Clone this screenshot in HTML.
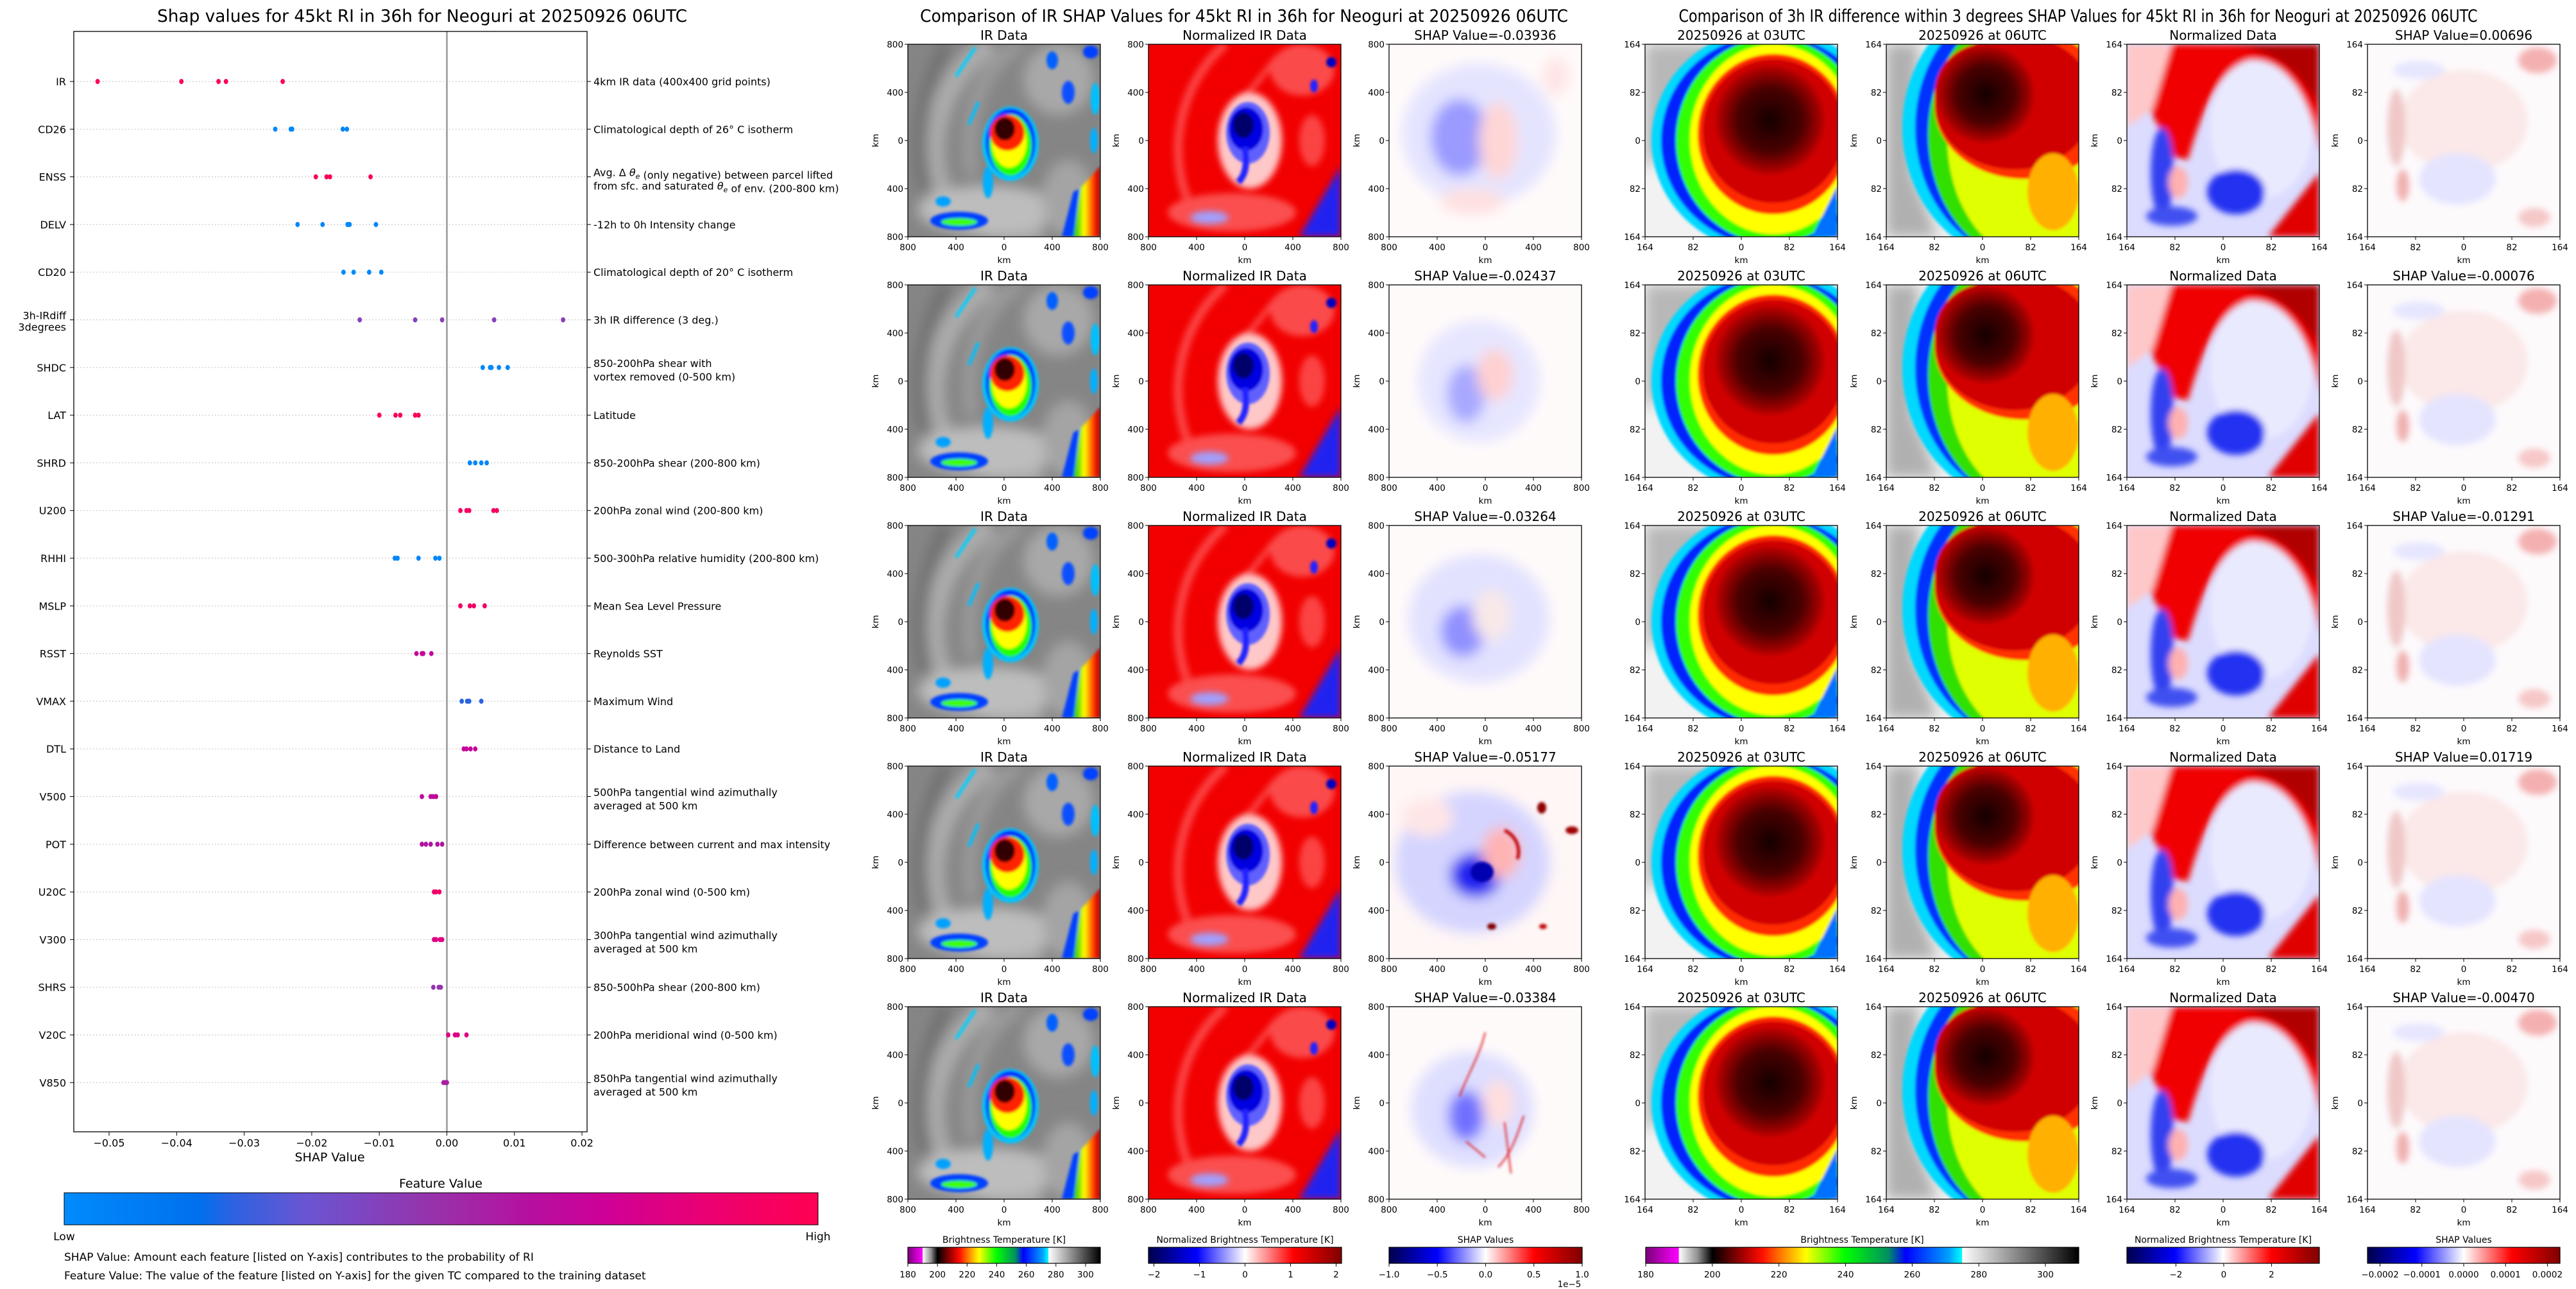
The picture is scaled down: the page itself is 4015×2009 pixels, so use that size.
<!DOCTYPE html>
<html><head><meta charset="utf-8">
<style>
html,body{margin:0;padding:0;background:#fff;}
svg{display:block;}
text{font-family:"DejaVu Sans","Liberation Sans",sans-serif;fill:#000;}
</style></head>
<body>
<svg id="root" xmlns="http://www.w3.org/2000/svg" width="4015" height="2009" viewBox="0 0 4015 2009">
<defs>
<filter id="b2" x="-20%" y="-20%" width="140%" height="140%"><feGaussianBlur stdDeviation="2"/></filter>
<filter id="b5" x="-30%" y="-30%" width="160%" height="160%"><feGaussianBlur stdDeviation="5"/></filter>
<filter id="b10" x="-30%" y="-30%" width="160%" height="160%"><feGaussianBlur stdDeviation="10"/></filter>
<linearGradient id="gFeat" x1="0" x2="1" y1="0" y2="0">
<stop offset="0" stop-color="#008bfb"/><stop offset="0.18" stop-color="#0070ee"/><stop offset="0.22" stop-color="#2a63e2"/>
<stop offset="0.32" stop-color="#6a55d2"/><stop offset="0.5" stop-color="#9a30a8"/><stop offset="0.62" stop-color="#b60fa0"/>
<stop offset="0.72" stop-color="#cf0096"/><stop offset="0.86" stop-color="#ec0070"/><stop offset="1" stop-color="#ff0052"/>
</linearGradient>
<linearGradient id="gSeis" x1="0" x2="1" y1="0" y2="0">
<stop offset="0" stop-color="#00004c"/><stop offset="0.25" stop-color="#0000ff"/><stop offset="0.5" stop-color="#ffffff"/>
<stop offset="0.75" stop-color="#ff0000"/><stop offset="1" stop-color="#800000"/>
</linearGradient>
<linearGradient id="gIR" x1="0" x2="1" y1="0" y2="0">
<stop offset="0" stop-color="#7a007a"/><stop offset="0.076" stop-color="#ff00ff"/><stop offset="0.077" stop-color="#ffffff"/>
<stop offset="0.12" stop-color="#909090"/><stop offset="0.154" stop-color="#000000"/><stop offset="0.23" stop-color="#b00000"/>
<stop offset="0.27" stop-color="#ff1000"/><stop offset="0.32" stop-color="#ff8c00"/><stop offset="0.37" stop-color="#ffff00"/>
<stop offset="0.46" stop-color="#00ff00"/><stop offset="0.56" stop-color="#009060"/><stop offset="0.6" stop-color="#0000ff"/>
<stop offset="0.7" stop-color="#00a0ff"/><stop offset="0.73" stop-color="#00ffff"/><stop offset="0.731" stop-color="#ffffff"/>
<stop offset="1" stop-color="#000000"/>
</linearGradient>
<linearGradient id="gStrip" x1="0" x2="1" y1="0" y2="0">
<stop offset="0" stop-color="#00c000"/><stop offset="0.4" stop-color="#ffff00"/><stop offset="0.8" stop-color="#ff2000"/><stop offset="1" stop-color="#a00000"/>
</linearGradient>
<radialGradient id="gCore1" cx="0.5" cy="0.5" r="0.5">
<stop offset="0" stop-color="#150000"/><stop offset="0.55" stop-color="#4a0000"/><stop offset="0.85" stop-color="#a00000"/><stop offset="1" stop-color="#d80000"/>
</radialGradient>

<symbol id="sym-ir" viewBox="0 0 300 300">
<rect width="300" height="300" fill="#858585"/>
<g filter="url(#b10)">
<path d="M130,0 C50,50 20,160 55,235 C80,285 150,300 210,290" stroke="#acacac" stroke-width="34" fill="none"/>
<path d="M175,0 C110,40 85,120 100,205" stroke="#9c9c9c" stroke-width="20" fill="none"/>
<path d="M60,0 C20,80 10,160 30,230" stroke="#707070" stroke-width="20" fill="none"/>
<ellipse cx="125" cy="258" rx="110" ry="38" fill="#bdbdbd"/>
<ellipse cx="235" cy="55" rx="55" ry="55" fill="#a8a8a8"/>
<ellipse cx="250" cy="240" rx="40" ry="60" fill="#a4a4a4"/>
</g>
<g filter="url(#b2)">
<path d="M105,5 L75,50" stroke="#00d0ff" stroke-width="5"/>
<path d="M110,90 L95,125" stroke="#00c0ff" stroke-width="5"/>
<ellipse cx="225" cy="25" rx="9" ry="14" fill="#0060ff"/>
<ellipse cx="285" cy="12" rx="12" ry="10" fill="#0040ff"/>
<ellipse cx="250" cy="75" rx="10" ry="18" fill="#1050ff"/>
<ellipse cx="292" cy="85" rx="7" ry="25" fill="#00c0ff"/>
<ellipse cx="290" cy="150" rx="6" ry="20" fill="#00b0ff"/>
<path d="M258,300 L268,225 L300,190 L300,300Z" fill="url(#gStrip)"/>
<path d="M240,300 L258,230 L268,225 L258,300Z" fill="#0040ff"/>
<ellipse cx="80" cy="275" rx="45" ry="14" fill="#0040ff"/>
<ellipse cx="80" cy="277" rx="28" ry="6" fill="#40ff00"/>
<ellipse cx="55" cy="245" rx="12" ry="8" fill="#00a0ff"/>
<ellipse cx="125" cy="215" rx="8" ry="25" fill="#00b0ff"/>
</g>
<g filter="url(#b2)">
<ellipse cx="160" cy="155" rx="44" ry="58" fill="#00c8ff"/>
<ellipse cx="160" cy="153" rx="39" ry="53" fill="#0030ff"/>
<ellipse cx="160" cy="157" rx="33" ry="48" fill="#20ff00"/>
<ellipse cx="158" cy="152" rx="27" ry="40" fill="#ffff00"/>
<ellipse cx="155" cy="138" rx="27" ry="28" fill="#ff2000"/>
<ellipse cx="151" cy="132" rx="16" ry="18" fill="#300000"/>
</g>
</symbol>

<symbol id="sym-nir" viewBox="0 0 300 300">
<rect width="300" height="300" fill="#f20000"/>
<g filter="url(#b5)" opacity="0.7">
<path d="M120,0 C50,60 30,160 60,240" stroke="#ff6060" stroke-width="14" fill="none"/>
<path d="M200,20 C170,60 150,80 140,100" stroke="#ff7070" stroke-width="8" fill="none"/>
<ellipse cx="130" cy="262" rx="100" ry="30" fill="#ff7070"/>
<ellipse cx="240" cy="40" rx="50" ry="40" fill="#ff6a6a"/>
<ellipse cx="255" cy="150" rx="20" ry="40" fill="#ff6060"/>
</g>
<g filter="url(#b5)">
<ellipse cx="158" cy="150" rx="50" ry="75" fill="#ffc8c8"/>
<path d="M235,300 L300,190 L300,300Z" fill="#2020f0"/>
<ellipse cx="95" cy="270" rx="30" ry="10" fill="#a0a0ff"/>
</g>
<g filter="url(#b2)">
<ellipse cx="155" cy="138" rx="34" ry="48" fill="#6060ff"/>
<ellipse cx="152" cy="132" rx="27" ry="34" fill="#0000e0"/>
<ellipse cx="148" cy="126" rx="16" ry="20" fill="#00006a"/>
<path d="M150,160 C155,190 150,205 140,215" stroke="#2020ff" stroke-width="10" fill="none"/>
<ellipse cx="285" cy="28" rx="8" ry="8" fill="#0000c0"/>
<ellipse cx="258" cy="65" rx="6" ry="10" fill="#2020ff"/>
</g>
</symbol>

<symbol id="sym-shap1" viewBox="0 0 300 300">
<rect width="300" height="300" fill="#fffafa"/>
<g filter="url(#b10)">
<ellipse cx="140" cy="140" rx="120" ry="110" fill="#e4e4ff"/>
<ellipse cx="110" cy="145" rx="45" ry="60" fill="#9a9aff"/>
<ellipse cx="170" cy="150" rx="30" ry="60" fill="#ffd6d6"/>
<ellipse cx="130" cy="245" rx="50" ry="20" fill="#ffe0e0"/>
<ellipse cx="260" cy="50" rx="20" ry="30" fill="#ffe4e4"/>
</g>
</symbol>
<symbol id="sym-shap2" viewBox="0 0 300 300">
<rect width="300" height="300" fill="#fffafa"/>
<g filter="url(#b10)">
<ellipse cx="140" cy="150" rx="95" ry="95" fill="#e6e6ff"/>
<ellipse cx="120" cy="170" rx="30" ry="45" fill="#a8a8ff"/>
<ellipse cx="165" cy="140" rx="28" ry="40" fill="#ffd0d0"/>
</g>
</symbol>
<symbol id="sym-shap3" viewBox="0 0 300 300">
<rect width="300" height="300" fill="#fffafa"/>
<g filter="url(#b10)">
<ellipse cx="140" cy="145" rx="110" ry="100" fill="#e2e2ff"/>
<ellipse cx="115" cy="165" rx="35" ry="40" fill="#9090ff"/>
<ellipse cx="160" cy="140" rx="30" ry="40" fill="#f8e8e8"/>
</g>
</symbol>
<symbol id="sym-shap4" viewBox="0 0 300 300">
<rect width="300" height="300" fill="#fff6f6"/>
<g filter="url(#b10)">
<ellipse cx="130" cy="150" rx="120" ry="110" fill="#d4d4ff"/>
<ellipse cx="135" cy="170" rx="40" ry="35" fill="#2020f0"/>
<ellipse cx="175" cy="135" rx="30" ry="40" fill="#ffb4b4"/>
<ellipse cx="60" cy="80" rx="40" ry="30" fill="#ffe6e6"/>
</g>
<g filter="url(#b2)">
<ellipse cx="145" cy="165" rx="18" ry="16" fill="#0000b0"/>
<path d="M180,100 C200,110 205,130 200,145" stroke="#c00000" stroke-width="5" fill="none"/>
<ellipse cx="238" cy="65" rx="7" ry="9" fill="#900000"/>
<ellipse cx="285" cy="100" rx="10" ry="6" fill="#a00000"/>
<ellipse cx="160" cy="250" rx="7" ry="5" fill="#800000"/>
<ellipse cx="240" cy="250" rx="6" ry="4" fill="#c00000"/>
</g>
</symbol>
<symbol id="sym-shap5" viewBox="0 0 300 300">
<rect width="300" height="300" fill="#fffafa"/>
<g filter="url(#b10)">
<ellipse cx="130" cy="160" rx="95" ry="90" fill="#dedeff"/>
<ellipse cx="120" cy="170" rx="28" ry="40" fill="#7070ff"/>
<ellipse cx="170" cy="150" rx="25" ry="35" fill="#ffdede"/>
</g>
<g filter="url(#b2)" stroke="#e00000" stroke-width="2" fill="none">
<path d="M150,40 C140,80 120,110 110,140"/><path d="M210,170 C200,200 190,230 170,250"/>
<path d="M180,180 L190,260"/><path d="M120,210 L150,235"/>
</g>
</symbol>

<symbol id="sym-t03" viewBox="0 0 300 300">
<rect width="300" height="300" fill="#f2f2f2"/>
<g filter="url(#b10)"><path d="M0,0 L120,0 L60,120 L0,200Z" fill="#b8b8b8"/></g>
<g filter="url(#b2)">
<ellipse cx="195" cy="150" rx="185" ry="175" fill="#00d8ff"/>
<ellipse cx="195" cy="150" rx="170" ry="165" fill="#0020ff"/>
<ellipse cx="198" cy="150" rx="150" ry="160" fill="#30ff00"/>
<ellipse cx="200" cy="148" rx="130" ry="148" fill="#ffff00"/>
<ellipse cx="200" cy="140" rx="118" ry="125" fill="#ff2a00"/>
<ellipse cx="200" cy="135" rx="110" ry="112" fill="#d00000"/>
<ellipse cx="195" cy="118" rx="90" ry="90" fill="url(#gCore1)"/>
<path d="M260,300 L300,220 L300,300Z" fill="#0070ff"/>
</g>
</symbol>
<symbol id="sym-t06" viewBox="0 0 300 300">
<rect width="300" height="300" fill="#f0f0f0"/>
<g filter="url(#b10)"><path d="M0,0 L50,0 L40,200 L80,300 L0,300Z" fill="#b0b0b0"/></g>
<g filter="url(#b2)">
<ellipse cx="215" cy="130" rx="190" ry="210" fill="#00d8ff"/>
<ellipse cx="220" cy="130" rx="175" ry="205" fill="#0030ff"/>
<ellipse cx="225" cy="140" rx="160" ry="200" fill="#30e000"/>
<ellipse cx="230" cy="145" rx="135" ry="190" fill="#e0ff00"/>
<ellipse cx="215" cy="95" rx="140" ry="115" fill="#ff3000"/>
<ellipse cx="200" cy="90" rx="125" ry="105" fill="#d00000"/>
<ellipse cx="155" cy="78" rx="80" ry="80" fill="url(#gCore1)"/>
<ellipse cx="260" cy="230" rx="40" ry="60" fill="#ffb000"/>
</g>
</symbol>
<symbol id="sym-tnorm" viewBox="0 0 300 300">
<rect width="300" height="300" fill="#dcdcff"/>
<g filter="url(#b5)">
<ellipse cx="210" cy="130" rx="80" ry="110" fill="#eaeaff"/>
<path d="M0,0 L300,0 L300,170 C285,70 240,20 190,25 C140,40 115,110 95,180 L70,175 L50,130 L25,80 L0,70Z" fill="#f00000"/>
<path d="M160,0 L300,0 L300,100 C270,40 230,10 160,0Z" fill="#b00000"/>
<path d="M0,0 L70,0 L40,100 L0,130Z" fill="#ffc8c8"/>
<path d="M220,300 L300,200 L300,300Z" fill="#e00000"/>
<ellipse cx="170" cy="230" rx="45" ry="35" fill="#2030f0"/>
<ellipse cx="55" cy="200" rx="18" ry="70" fill="#3040f0"/>
<ellipse cx="70" cy="268" rx="40" ry="15" fill="#4050f0"/>
<ellipse cx="80" cy="215" rx="15" ry="25" fill="#ffb0b0"/>
</g>
</symbol>
<symbol id="sym-tshap" viewBox="0 0 300 300">
<rect width="300" height="300" fill="#fdfafc"/>
<g filter="url(#b5)">
<ellipse cx="150" cy="120" rx="100" ry="80" fill="#fbe8e8"/>
<ellipse cx="140" cy="210" rx="60" ry="40" fill="#e4e4ff"/>
<ellipse cx="45" cy="130" rx="14" ry="60" fill="#f0c8c8"/>
<ellipse cx="55" cy="220" rx="10" ry="25" fill="#f0b0b0"/>
<ellipse cx="80" cy="40" rx="40" ry="14" fill="#e6e6ff"/>
<ellipse cx="260" cy="270" rx="25" ry="15" fill="#f6c8c8"/>
<ellipse cx="265" cy="25" rx="30" ry="20" fill="#f4b0b0"/>
</g>
</symbol>
</defs>
</svg>
<script>
const features = ["IR","CD26","ENSS","DELV","CD20","3h-IRdiff\n3degrees","SHDC","LAT","SHRD","U200","RHHI","MSLP","RSST","VMAX","DTL","V500","POT","U20C","V300","SHRS","V20C","V850"];
const descriptions = ["4km IR data (400x400 grid points)","Climatological depth of 26° C isotherm","Avg. Δ θe (only negative) between parcel lifted\nfrom sfc. and saturated θe of env. (200-800 km)","-12h to 0h Intensity change","Climatological depth of 20° C isotherm","3h IR difference (3 deg.)","850-200hPa shear with\nvortex removed (0-500 km)","Latitude","850-200hPa shear (200-800 km)","200hPa zonal wind (200-800 km)","500-300hPa relative humidity (200-800 km)","Mean Sea Level Pressure","Reynolds SST","Maximum Wind","Distance to Land","500hPa tangential wind azimuthally\naveraged at 500 km","Difference between current and max intensity","200hPa zonal wind (0-500 km)","300hPa tangential wind azimuthally\naveraged at 500 km","850-500hPa shear (200-800 km)","200hPa meridional wind (0-500 km)","850hPa tangential wind azimuthally\naveraged at 500 km"];
const shapValues = [
 [-0.0517,-0.0393,-0.0338,-0.0327,-0.0243],
 [-0.0254,-0.0231,-0.0229,-0.0154,-0.0148],
 [-0.0194,-0.0178,-0.0173,-0.0113],
 [-0.0221,-0.0184,-0.0147,-0.0144,-0.0105],
 [-0.0153,-0.0138,-0.0115,-0.0097],
 [-0.0129,-0.0047,-0.0007,0.0070,0.0172],
 [0.0053,0.0064,0.0066,0.0077,0.0090],
 [-0.0100,-0.0076,-0.0069,-0.0047,-0.0042],
 [0.0034,0.0042,0.0051,0.0059],
 [0.0020,0.0029,0.0033,0.0069,0.0074],
 [-0.0077,-0.0073,-0.0042,-0.0017,-0.0011],
 [0.0020,0.0034,0.0040,0.0056],
 [-0.0045,-0.0037,-0.0035,-0.0023],
 [0.0022,0.0030,0.0033,0.0051],
 [0.0025,0.0029,0.0035,0.0042],
 [-0.0037,-0.0024,-0.0020,-0.0016],
 [-0.0037,-0.0031,-0.0024,-0.0014,-0.0007],
 [-0.0019,-0.0016,-0.0011],
 [-0.0019,-0.0016,-0.0010,-0.0007],
 [-0.0020,-0.0012,-0.0009],
 [0.0002,0.0012,0.0016,0.0029],
 [-0.0005,-0.0002,0.0000]
];
const featureValues = [1,0.03,0.97,0.03,0.03,0.42,0.03,0.97,0.03,0.93,0.03,0.9,0.68,0.22,0.68,0.66,0.6,0.9,0.8,0.48,0.8,0.55];
const xTicks = [-0.05,-0.04,-0.03,-0.02,-0.01,0.00,0.01,0.02];
const xTickLabels = ["\u22120.05","\u22120.04","\u22120.03","\u22120.02","\u22120.01","0.00","0.01","0.02"];
const midShapTitles = ["-0.03936","-0.02437","-0.03264","-0.05177","-0.03384"];
const rightShapTitles = ["0.00696","-0.00076","-0.01291","0.01719","-0.00470"];
const kmTicksMid = ["800","400","0","400","800"];
const kmTicksRight = ["164","82","0","82","164"];
const irCbTicks = [180,200,220,240,260,280,300];
const normCbTicksMid = [-2,-1,0,1,2];
const shapCbTicksMid = [-1.0,-0.5,0.0,0.5,1.0];
const normCbTicksRight = [-2,0,2];
const shapCbTicksRight = [-0.0002,-0.0001,0.0000,0.0001,0.0002];

const NS="http://www.w3.org/2000/svg";
const root=document.getElementById('root');
function mk(tag,attrs,parent){const e=document.createElementNS(NS,tag);for(const k in attrs)e.setAttribute(k,attrs[k]);(parent||root).appendChild(e);return e;}
function txt(s,x,y,size,anchor,parent,extra){const t=mk('text',Object.assign({x:x,y:y,'font-size':size,'text-anchor':anchor||'start'},extra||{}),parent);t.textContent=s;return t;}
function fmtMinus(s){return String(s).replace('-','\u2212');}

const L={left:115,right:915,top:49,bottom:1764};
const xS=v=>696.5+v*10530;
const yS=i=>127+i*74.3;
const gL=mk('g',{});


let t=txt('Shap values for 45kt RI in 36h for Neoguri at 20250926 06UTC',658,34,27,'middle',gL,{textLength:826,lengthAdjust:'spacingAndGlyphs'});


features.forEach((f,i)=>{
  const y=yS(i);
  const gl=mk('line',{x1:L.left,x2:L.right,y1:y,y2:y,stroke:'#cccccc','stroke-width':1.2,'stroke-dasharray':'2,3'},gL);
  
  
  mk('line',{x1:L.left-6,x2:L.left,y1:y,y2:y,stroke:'#000','stroke-width':1},gL);
  mk('line',{x1:L.right,x2:L.right+6,y1:y,y2:y,stroke:'#000','stroke-width':1},gL);
  const lines=f.split('\n');
  lines.forEach((ln,k)=>{
    const yy=lines.length>1?y-1+k*18:y+6;
    const tl=txt(ln,L.left-12,yy,16,'end',gL);
    
    
  });
  const dl=descriptions[i].split('\n');
  dl.forEach((ln,k)=>{
    const yy=dl.length>1?y-1+k*21:y+6;
    const td=mk('text',{x:L.right+10,y:yy,'font-size':16},gL);
    if(ln.indexOf('θe')>=0){
      const parts=ln.split('θe');
      parts.forEach((p,pi)=>{
        const s1=mk('tspan',{},td);s1.textContent=p;
        if(pi<parts.length-1){const s2=mk('tspan',{'font-style':'italic'},td);s2.textContent='θ';const s3=mk('tspan',{'font-size':11,dy:4,'font-style':'italic'},td);s3.textContent='e';const s4=mk('tspan',{dy:-4},td);s4.textContent='';}
      });
    } else td.textContent=ln;
    
    
  });
});
const zl=mk('line',{x1:xS(0),x2:xS(0),y1:L.top,y2:L.bottom,stroke:'#999999','stroke-width':2.5},gL);


function featColor(v){
  const st=[[0,[0,139,251]],[0.18,[0,112,238]],[0.22,[42,99,226]],[0.32,[106,85,210]],[0.5,[154,48,168]],[0.62,[182,15,160]],[0.72,[207,0,150]],[0.86,[236,0,112]],[1,[255,0,82]]];
  for(let i=1;i<st.length;i++){if(v<=st[i][0]){const a=st[i-1],b=st[i];const f=(v-a[0])/(b[0]-a[0]);const c=a[1].map((x,j)=>Math.round(x+(b[1][j]-x)*f));return 'rgb('+c.join(',')+')';}}
  return 'rgb(255,0,82)';
}
shapValues.forEach((arr,i)=>{
  arr.forEach(v=>{
    const d=mk('ellipse',{cx:xS(v),cy:yS(i),rx:3.4,ry:4,fill:featColor(featureValues[i])},gL);
    
    
  });
});
const frame=mk('rect',{x:L.left,y:L.top,width:L.right-L.left,height:L.bottom-L.top,fill:'none',stroke:'#000','stroke-width':1.3},gL);


xTicks.forEach((v,i)=>{
  mk('line',{x1:xS(v),x2:xS(v),y1:L.bottom,y2:L.bottom+6,stroke:'#000'},gL);
  const tx=txt(xTickLabels[i],xS(v),1787,16,'middle',gL);
  
  
});
t=txt('SHAP Value',514,1810,19,'middle',gL);


t=txt('Feature Value',687,1851,19,'middle',gL);


const fcb=mk('rect',{x:100,y:1859,width:1175,height:50,fill:'url(#gFeat)',stroke:'#000','stroke-width':1},gL);


t=txt('Low',100,1933,17,'middle',gL);


t=txt('High',1275,1933,17,'middle',gL);


t=txt('SHAP Value: Amount each feature [listed on Y-axis] contributes to the probability of RI',100,1965,17,'start',gL);


t=txt('Feature Value: The value of the feature [listed on Y-axis] for the given TC compared to the training dataset',100,1994,17,'start',gL);



const rowY=[69,444,819,1194,1569];
const midX=[1415,1790,2165];
const rightX=[2564,2940,3315,3690];
const P=300;
t=txt('Comparison of IR SHAP Values for 45kt RI in 36h for Neoguri at 20250926 06UTC',1939,34,27,'middle',null,{textLength:1010,lengthAdjust:'spacingAndGlyphs'});


t=txt('Comparison of 3h IR difference within 3 degrees SHAP Values for 45kt RI in 36h for Neoguri at 20250926 06UTC',3239,34,27,'middle',null,{textLength:1245,lengthAdjust:'spacingAndGlyphs'});



function panel(x,y,sym,title,ticks,showKmY,name){
  const g=mk('g',{});
  
  
  mk('use',{href:'#'+sym,x:x,y:y,width:P,height:P},g);
  mk('rect',{x:x,y:y,width:P,height:P,fill:'none',stroke:'#000','stroke-width':1.3},g);
  const tt=txt(title,x+P/2,y-7,20,'middle',g);
  
  
  ticks.forEach((s,k)=>{
    const yy=y+k*P/4, xx=x+k*P/4;
    mk('line',{x1:x-5,x2:x,y1:yy,y2:yy,stroke:'#000'},g);
    mk('line',{x1:xx,x2:xx,y1:y+P,y2:y+P+5,stroke:'#000'},g);
    const ty=txt(s,x-7,yy+5,13.5,'end',g);
    
    
    const tx=txt(s,xx,y+P+21,13.5,'middle',g);
    
    
  });
  const kx=txt('km',x+P/2,y+P+41,13.5,'middle',g);
  
  
  if(showKmY){
    const ky=txt('km',0,0,13.5,'middle',g,{transform:'translate('+(x-46)+','+(y+P/2)+') rotate(-90)'});
    
    
  }
}
rowY.forEach((y,r)=>{
  panel(midX[0],y,'sym-ir','IR Data',kmTicksMid,true,'ir-data-panel');
  panel(midX[1],y,'sym-nir','Normalized IR Data',kmTicksMid,true,'normalized-ir-panel');
  panel(midX[2],y,'sym-shap'+(r+1),'SHAP Value='+midShapTitles[r],kmTicksMid,true,'ir-shap-panel');
  panel(rightX[0],y,'sym-t03','20250926 at 03UTC',kmTicksRight,false,'ir-03utc-panel');
  panel(rightX[1],y,'sym-t06','20250926 at 06UTC',kmTicksRight,true,'ir-06utc-panel');
  panel(rightX[2],y,'sym-tnorm','Normalized Data',kmTicksRight,true,'normalized-diff-panel');
  panel(rightX[3],y,'sym-tshap','SHAP Value='+rightShapTitles[r],kmTicksRight,true,'diff-shap-panel');
});

function colorbar(x,w,fill,title,ticks,vmin,vmax,labelFn,name){
  const g=mk('g',{});
  
  
  const ct=txt(title,x+w/2,1937,14,'middle',g);
  
  
  mk('rect',{x:x,y:1944,width:w,height:25,fill:fill,stroke:'#000','stroke-width':1.2},g);
  ticks.forEach(v=>{
    const xx=x+(v-vmin)/(vmax-vmin)*w;
    mk('line',{x1:xx,x2:xx,y1:1969,y2:1974,stroke:'#000'},g);
    const tl=txt(labelFn(v),xx,1991,13.5,'middle',g);
    
    
  });
}
colorbar(1415,300,'url(#gIR)','Brightness Temperature [K]',irCbTicks,180,310,v=>String(v),'ir-colorbar');
colorbar(1790,301,'url(#gSeis)','Normalized Brightness Temperature [K]',normCbTicksMid,-2.12,2.12,v=>fmtMinus(v),'normalized-colorbar');
colorbar(2165,301,'url(#gSeis)','SHAP Values',shapCbTicksMid,-1,1,v=>fmtMinus(v.toFixed(1)),'shap-colorbar');
t=txt('1e\u22125',2446,2006,13.5,'middle');


colorbar(2565,675,'url(#gIR)','Brightness Temperature [K]',irCbTicks,180,310,v=>String(v),'diff-ir-colorbar');
colorbar(3315,300,'url(#gSeis)','Normalized Brightness Temperature [K]',normCbTicksRight,-4.05,4.0,v=>fmtMinus(v),'diff-normalized-colorbar');
colorbar(3690,300,'url(#gSeis)','SHAP Values',shapCbTicksRight,-0.00023,0.00023,v=>fmtMinus(v.toFixed(4)),'diff-shap-colorbar');
</script>
</body></html>
